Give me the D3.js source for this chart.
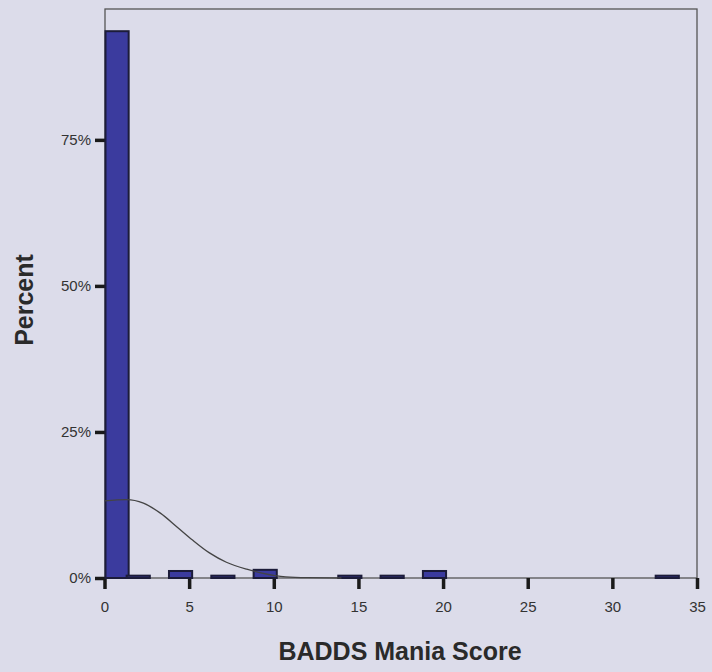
<!DOCTYPE html>
<html>
<head>
<meta charset="utf-8">
<script src="https://cdn.jsdelivr.net/npm/d3@7"></script>
<style>
  body { margin: 0; background: #dcdcea; }
  svg { display: block; }
</style>
</head>
<body>
<script>
'use strict';

// histogram bins (start of bin, score units) and percent of cases
const binStart = [0, 1.25, 3.75, 6.25, 8.75, 13.75, 16.25, 18.75, 32.5];
const binPercent = [93.6, 0.4, 1.2, 0.4, 1.4, 0.4, 0.4, 1.2, 0.4];
const binWidth = 1.25;

// normal curve, points
const curveScore = [0, 1.3, 2.3, 3.3, 4.3, 5.2, 6.2, 7.2, 8.4, 9.3, 10.7, 12, 14];
const curvePercent = [13.2, 13.4, 12.8, 11.1, 8.7, 6.5, 4.3, 2.7, 1.5, 0.85, 0.2, 0.05, 0];

const xTicks = [0, 5, 10, 15, 20, 25, 30, 35];
const yTicks = [0, 25, 50, 75];

(function() {

  let svgContainer = "";

  window.onload = function() {
    svgContainer = d3.select('body')
      .append('svg')
      .attr('width', 712)
      .attr('height', 672);

    svgContainer.append('rect')
      .attr('width', 712)
      .attr('height', 672)
      .attr('fill', '#dcdcea');

    let map = drawTicks();
    plotData(map);
    makeLabels();
  }

  function drawTicks() {
    let xScale = d3.scaleLinear()
      .domain([0, 35])
      .range([104.5, 697]);

    let yScale = d3.scaleLinear()
      .domain([0, 97.4])
      .range([578, 9]);

    // frame round the plot
    svgContainer.append('rect')
      .attr('x', 105)
      .attr('y', 9)
      .attr('width', 592)
      .attr('height', 569)
      .attr('fill', 'none')
      .attr('stroke', '#555')
      .attr('stroke-width', 1.3);

    let xAxis = d3.axisBottom(xScale)
      .tickValues(xTicks)
      .tickSize(11)
      .tickPadding(12);

    let gx = svgContainer.append('g')
      .attr('transform', 'translate(0, 578)')
      .call(xAxis);
    gx.select('.domain').remove();
    gx.selectAll('line').attr('stroke', '#1a1a1a').attr('stroke-width', 3.5);
    gx.selectAll('text')
      .attr('fill', '#333')
      .style('font-family', 'Liberation Sans, Arial, sans-serif')
      .style('font-size', '15px');

    let yAxis = d3.axisLeft(yScale)
      .tickValues(yTicks)
      .tickSize(10)
      .tickPadding(4)
      .tickFormat(d => d + '%');

    let gy = svgContainer.append('g')
      .attr('transform', 'translate(105, 0)')
      .call(yAxis);
    gy.select('.domain').remove();
    gy.selectAll('line').attr('stroke', '#1a1a1a').attr('stroke-width', 3.5);
    gy.selectAll('text')
      .attr('fill', '#333')
      .style('font-family', 'Liberation Sans, Arial, sans-serif')
      .style('font-size', '15px');

    return { x: xScale, y: yScale };
  }

  function plotData(map) {
    let xScale = map.x;
    let yScale = map.y;

    let bins = binStart.map((s, i) => ({ start: s, pct: binPercent[i] }));

    svgContainer.selectAll('.bar')
      .data(bins)
      .enter()
      .append('rect')
        .attr('class', 'bar')
        .attr('x', d => xScale(d.start) + 1)
        .attr('y', d => yScale(d.pct))
        .attr('width', d => xScale(d.start + binWidth) - xScale(d.start) + 2)
        .attr('height', d => yScale(0) - yScale(d.pct))
        .attr('fill', '#3b3b9e')
        .attr('stroke', '#1c1c3a')
        .attr('stroke-width', 2);

    let line = d3.line()
      .x(d => xScale(d[0]))
      .y(d => yScale(d[1]))
      .curve(d3.curveMonotoneX);

    svgContainer.append('path')
      .datum(curveScore.map((s, i) => [s, curvePercent[i]]))
      .attr('d', line)
      .attr('fill', 'none')
      .attr('stroke', '#444')
      .attr('stroke-width', 1.3);
  }

  function makeLabels() {
    svgContainer.append('text')
      .attr('x', 400)
      .attr('y', 660)
      .attr('text-anchor', 'middle')
      .attr('fill', '#2a2a2a')
      .style('font-family', 'Liberation Sans, Arial, sans-serif')
      .style('font-weight', 'bold')
      .style('font-size', '25px')
      .text('BADDS Mania Score');

    svgContainer.append('text')
      .attr('transform', 'translate(33, 300)rotate(-90)')
      .attr('text-anchor', 'middle')
      .attr('fill', '#2a2a2a')
      .style('font-family', 'Liberation Sans, Arial, sans-serif')
      .style('font-weight', 'bold')
      .style('font-size', '25px')
      .text('Percent');
  }

})();
</script>
</body>
</html>
